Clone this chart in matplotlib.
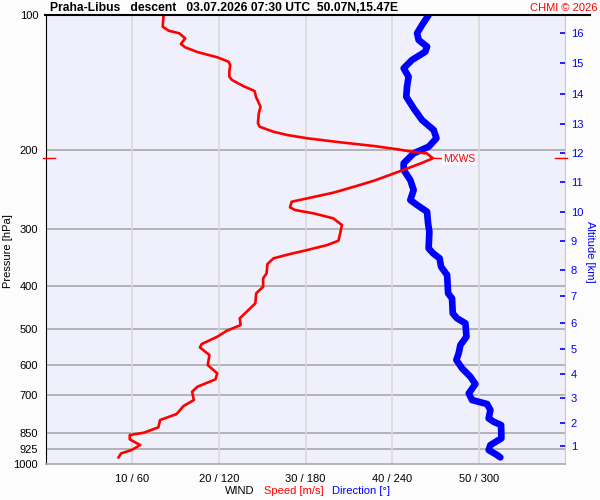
import matplotlib
matplotlib.use("Agg")
import matplotlib.pyplot as plt
from matplotlib.lines import Line2D
from matplotlib.ticker import NullLocator, FixedLocator, FixedFormatter
import numpy as np

plt.rcParams['font.family'] = ['Liberation Sans', 'DejaVu Sans']

# wind speed [m/s] vs pressure [hPa]
speed = [13.6, 13.5, 14.2, 15.4, 16.1, 15.6, 16.1, 17.5, 19.8, 21.1, 21.3, 21.2, 21.2, 21.5,
         22.8, 24.1, 24.3, 24.8, 24.6, 24.5, 24.7, 26.3, 27.9, 30.2, 34.0, 37.9, 40.6, 42.7,
         44.0, 44.7, 43.5, 41.5, 39.4, 37.9, 35.6, 33.2, 30.2, 28.4, 28.2, 28.8, 30.9, 33.2,
         34.2, 34.0, 33.8, 32.5, 30.2, 28.2, 26.3, 25.6, 25.5, 25.1, 25.1, 24.3, 24.2, 23.2,
         22.4, 22.5, 20.9, 19.8, 18.0, 17.8, 18.9, 18.7, 19.8, 19.6, 17.5, 16.9, 17.1, 15.9,
         15.1, 13.2, 13.0, 11.3, 9.7, 9.7, 10.9, 9.9, 8.7, 8.4]
speed_p = [100, 106.2, 108.4, 109.8, 112.7, 116.0, 118.0, 120.9, 124.2, 127.0, 129.2, 133.7,
           137.2, 139.5, 143.9, 147.6, 152.5, 160.0, 165.5, 174.2, 177.3, 181.9, 185.0, 188.1,
           192.0, 195.7, 199.0, 202.1, 203.2, 208.4, 213.2, 220.5, 228.2, 233.8, 241.1, 248.6,
           255.9, 260.4, 268.0, 271.7, 276.3, 283.5, 293.4, 306.1, 318.0, 325.1, 333.5, 340.4,
           348.0, 358.3, 375.8, 385.6, 402.5, 416.4, 438.3, 457.6, 473.3, 489.9, 504.4, 520.1,
           540.0, 549.2, 571.3, 601.3, 627.4, 647.0, 672.1, 689.5, 719.4, 742.0, 773.0, 797.1,
           827.6, 850.7, 860.9, 880.0, 906.1, 929.6, 945.5, 965.1]

# wind direction [deg] vs pressure [hPa]
direction = [265.3, 260.7, 257.3, 258.4, 264.2, 263.0, 253.8, 248.0, 251.4, 250.3, 249.8, 254.9,
             260.7, 268.8, 270.7, 265.3, 254.9, 248.0, 248.0, 252.6, 254.9, 252.6, 257.3, 264.2,
             264.9, 265.8, 265.3, 268.4, 272.9, 273.9, 278.1, 278.8, 281.5, 282.0, 285.0, 290.8,
             291.5, 287.3, 286.1, 284.5, 288.5, 294.2, 297.7, 293.1, 295.4, 305.8, 308.1, 306.9,
             310.4, 315.5, 315.7, 308.1, 306.9, 312.8, 315.0]
direction_p = [100, 105.3, 109.8, 113.7, 117.6, 120.7, 125.9, 131.4, 137.2, 144.4, 152.0, 161.3,
               171.3, 180.3, 188.1, 196.4, 203.2, 213.8, 221.3, 233.0, 245.2, 258.1, 264.8, 274.1,
               290.9, 303.6, 330.6, 339.2, 348.0, 363.3, 379.1, 416.4, 427.2, 461.4, 473.3, 485.6,
               520.1, 542.7, 566.3, 586.1, 611.6, 638.4, 662.8, 695.2, 719.4, 734.3, 757.3, 790.3,
               804.2, 817.9, 875.6, 906.1, 929.6, 953.8, 965.1]

p_levels = [100, 200, 300, 400, 500, 600, 700, 850, 925, 1000]
speed_ticks = [10, 20, 30, 40, 50]
dir_ticks = [60, 120, 180, 240, 300]
alt_km = list(range(1, 17))
alt_p = [910.7, 809.5, 711.0, 629.8, 554.0, 485.6, 422.2, 369.5, 318.5, 274.5,
         235.7, 202.7, 175.1, 149.9, 128.1, 109.7]

BLUE = '#0000FF'
RED = '#FF0000'
W, H = 600, 500

fig = plt.figure(figsize=(6, 5), dpi=100, facecolor='#FCFCFC')
x0, x1, y0, y1 = 45.8, 565.3, 15, 464.3
rect = [x0 / W, 1 - y1 / H, (x1 - x0) / W, (y1 - y0) / H]

# back axes: direction scale, background, grid and the blue line
axd = fig.add_axes(rect)
axd.set_facecolor('#F0F0FC')
axd.set_yscale('log')
axd.set_ylim(1000, 100)
axd.set_xlim(0, 360)
for p in p_levels[1:-1]:
    axd.axhline(p, color='#A8A8A8', lw=1.2, zorder=1)
for d in dir_ticks:
    axd.axvline(d, color='#DADADA', lw=1.2, zorder=1)
axd.plot(direction, direction_p, color=BLUE, lw=4.8, zorder=3,
         solid_joinstyle='round', solid_capstyle='round')
axd.set_xticks([])
axd.yaxis.set_major_locator(NullLocator())
axd.yaxis.set_minor_locator(NullLocator())
for sp in axd.spines.values():
    sp.set_visible(False)

# front axes: speed scale, pressure labels, red line
ax = fig.add_axes(rect)
ax.patch.set_visible(False)
ax.set_yscale('log')
ax.set_ylim(1000, 100)
ax.set_xlim(0, 60)
ax.plot(speed, speed_p, color=RED, lw=1.9, zorder=4, solid_joinstyle='round')

ax.yaxis.set_major_locator(FixedLocator(p_levels))
ax.yaxis.set_major_formatter(FixedFormatter([str(p) for p in p_levels]))
ax.yaxis.set_minor_locator(NullLocator())
ax.tick_params(axis='y', length=0, pad=5.5, labelsize=8)
ax.set_xticks(speed_ticks)
ax.set_xticklabels([f"{s} / {d}" for s, d in zip(speed_ticks, dir_ticks)])
ax.tick_params(axis='x', length=0, pad=7, labelsize=8)

ax.spines['top'].set_visible(False)
ax.spines['left'].set_color('black')
ax.spines['right'].set_color('#C8C8C8')
ax.spines['bottom'].set_color('#A8A8A8')
ax.spines['bottom'].set_linewidth(1.2)

# altitude axis
ax3 = fig.add_axes(rect)
ax3.patch.set_visible(False)
ax3.set_yscale('log')
ax3.set_ylim(1000, 100)
ax3.set_xticks([])
ax3.yaxis.tick_right()
ax3.yaxis.set_major_locator(FixedLocator(alt_p))
ax3.yaxis.set_major_formatter(FixedFormatter([str(a) for a in alt_km]))
ax3.yaxis.set_minor_locator(NullLocator())
ax3.tick_params(axis='y', direction='in', length=3.8, width=1.2, color=BLUE,
                labelcolor=BLUE, labelsize=8, pad=4)
for sp in ax3.spines.values():
    sp.set_visible(False)

# axis titles
fig.text(8 / W, 1 - 251 / H, 'Pressure [hPa]', fontsize=8, rotation=90,
         ha='center', va='center')
fig.text(590 / W, 1 - 252 / H, 'Altitude [km]', color=BLUE, fontsize=8, rotation=270,
         ha='center', va='center')

# max wind marker
imax = int(np.argmax(speed))
smax, pmax = speed[imax], speed_p[imax]
ax.annotate('MXWS', xy=(smax, pmax), xytext=(10, -1), textcoords='offset pixels',
            color=RED, fontsize=7.5, ha='left', va='center', zorder=6,
            bbox=dict(boxstyle='square,pad=0.1', fc='#F8F8FE', ec='none'),
            arrowprops=dict(arrowstyle='-', color=RED, lw=1, shrinkA=0, shrinkB=0))
ytr = ax.get_yaxis_transform()
ax.plot([-0.005, 0.018], [pmax, pmax], color=RED, lw=1, transform=ytr, clip_on=False, zorder=6)
ax.plot([0.98, 1.003], [pmax, pmax], color=RED, lw=1, transform=ytr, clip_on=False, zorder=6)

# top border line running under the header
fig.add_artist(Line2D([45 / W, 590 / W], [1 - y0 / H, 1 - y0 / H], color='black', lw=1.5))

fig.text(50 / W, 1 - 8 / H, 'Praha-Libus   descent   03.07.2026 07:30 UTC  50.07N,15.47E',
         fontsize=8.7, fontweight='bold', ha='left', va='center')
fig.text(597 / W, 1 - 8 / H, 'CHMI \u00a9 2026', color=RED, fontsize=8, ha='right', va='center')

yl = 1 - 491 / H
fig.text(225 / W, yl, 'WIND', fontsize=8, ha='left', va='center')
fig.text(264 / W, yl, 'Speed [m/s]', color=RED, fontsize=8, ha='left', va='center')
fig.text(332 / W, yl, 'Direction [\u00b0]', color=BLUE, fontsize=8, ha='left', va='center')

fig.savefig('out.png', dpi=100, facecolor=fig.get_facecolor())
